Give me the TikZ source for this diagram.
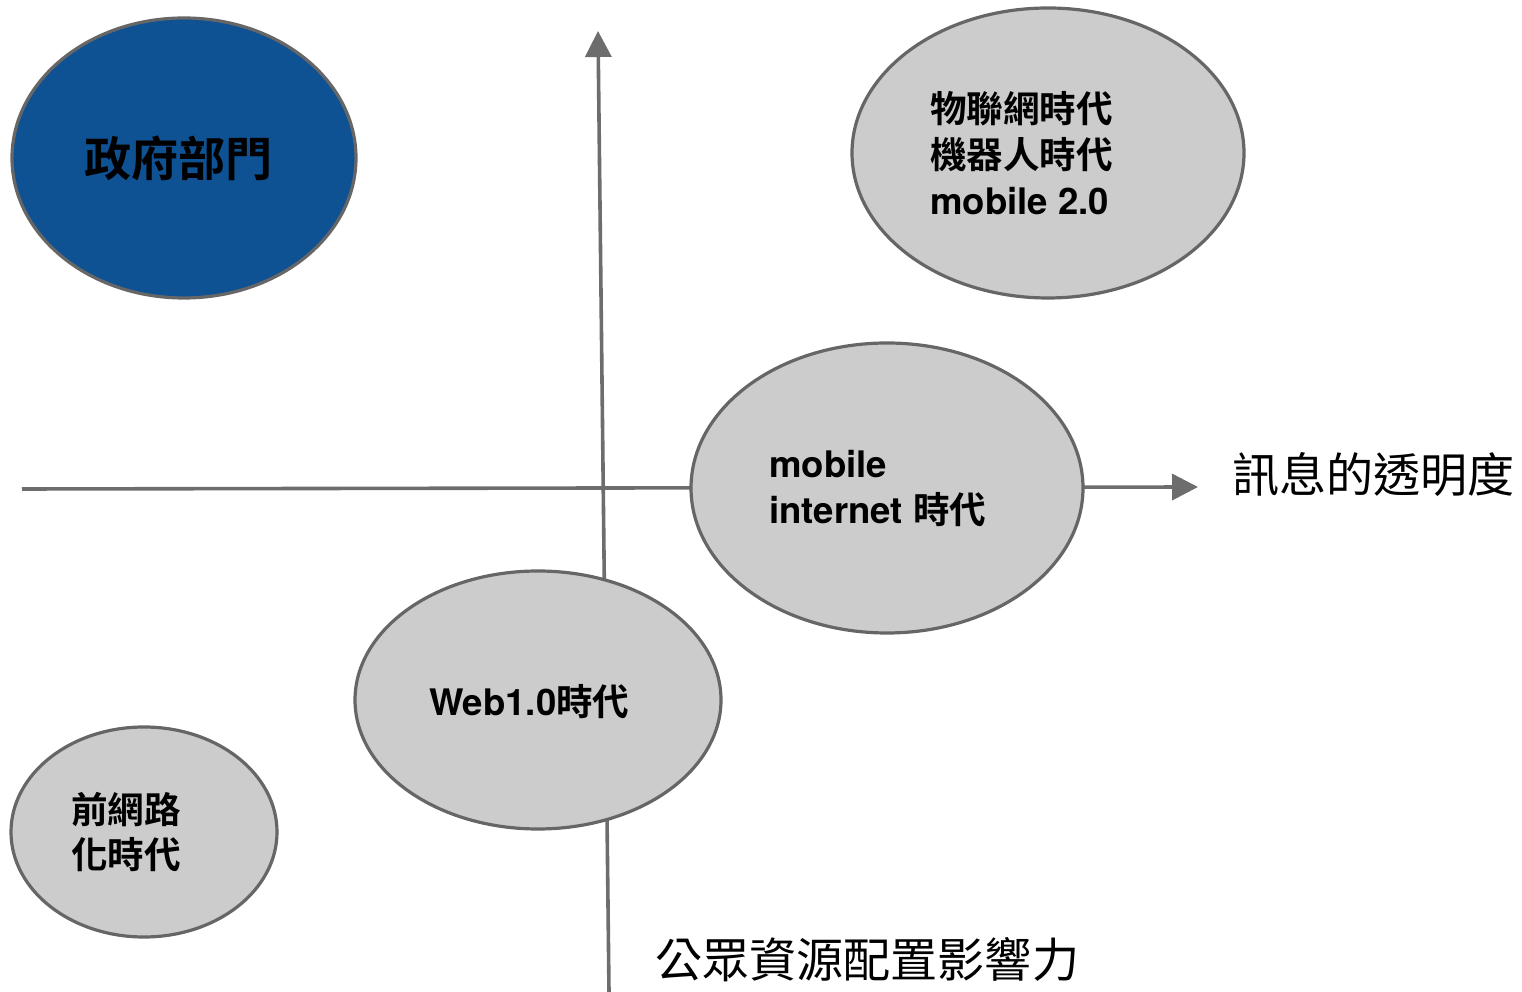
\documentclass[tikz,border=0pt]{standalone}
\usepackage{fontspec}
\setmainfont{TeX Gyre Heros}
\newfontfamily\cjk{Noto Sans CJK TC}[BoldFont={Noto Sans CJK TC Bold}]
\usetikzlibrary{shapes.geometric}
\usetikzlibrary{arrows.meta}
\usepackage{xcolor}
\definecolor{govblue}{RGB}{14,82,148}
\definecolor{blobgray}{RGB}{204,204,204}
\definecolor{edgegray}{RGB}{102,102,102}
\definecolor{axisgray}{RGB}{109,109,109}
\newcommand{\zh}[1]{{\cjk #1}}
\tikzset{
 blob/.style={ellipse, draw=edgegray, line width=0.08cm, fill=blobgray, inner sep=0pt},
 lbl/.style={anchor=west, inner sep=0pt, align=left, font=\fontsize{26}{32.6}\selectfont\bfseries},
 axislbl/.style={anchor=west, inner sep=0pt, font=\fontsize{33.5}{40}\selectfont},
 axis/.style={axisgray, line width=0.09cm, -{Triangle[length=0.65cm,width=0.65cm]}},
}
\begin{document}
\begin{tikzpicture}
\useasboundingbox (0,0) rectangle (38.05,24.8);

% axes
\coordinate (xstart) at (0.55,12.575);
\coordinate (xend) at (29.95,12.625);
\coordinate (ystart) at (15.225,0);
\coordinate (yend) at (14.95,24.025);
\draw[axis] (xstart)--(xend);
\draw[axis] (ystart)--(yend);

\node[axislbl] (xlbl) at (30.8,12.925) {\zh{訊息的透明度}};
\node[axislbl] (ylbl) at (16.375,0.8) {\zh{公眾資源配置影響力}};

% eras
\node[blob, fill=govblue, minimum width=8.6cm, minimum height=7cm] (gov) at (4.6,20.85) {};
\node[blob, minimum width=9.8cm, minimum height=7.25cm] (iot) at (26.2,20.975) {};
\node[blob, minimum width=9.8cm, minimum height=7.25cm] (mob) at (22.175,12.6) {};
\node[blob, minimum width=9.15cm, minimum height=6.45cm] (web) at (13.45,7.3) {};
\node[blob, minimum width=6.65cm, minimum height=5.25cm] (pre) at (3.6,4.0) {};

\node[lbl, font=\fontsize{33.5}{40}\selectfont\bfseries] (govtxt) at (2.1,20.85) {\zh{政府部門}};
\node[lbl] (iottxt) at (23.25,20.975) {\zh{物聯網時代}\\\zh{機器人時代}\\mobile 2.0};
\node[lbl] (mobtxt) at (19.225,12.59) {mobile\\internet \zh{時代}};
\node[lbl] (webtxt) at (10.725,7.25) {Web1.0\zh{時代}};
\node[lbl] (pretxt) at (1.775,4.0) {\zh{前網路}\\\zh{化時代}};

\end{tikzpicture}
\end{document}
